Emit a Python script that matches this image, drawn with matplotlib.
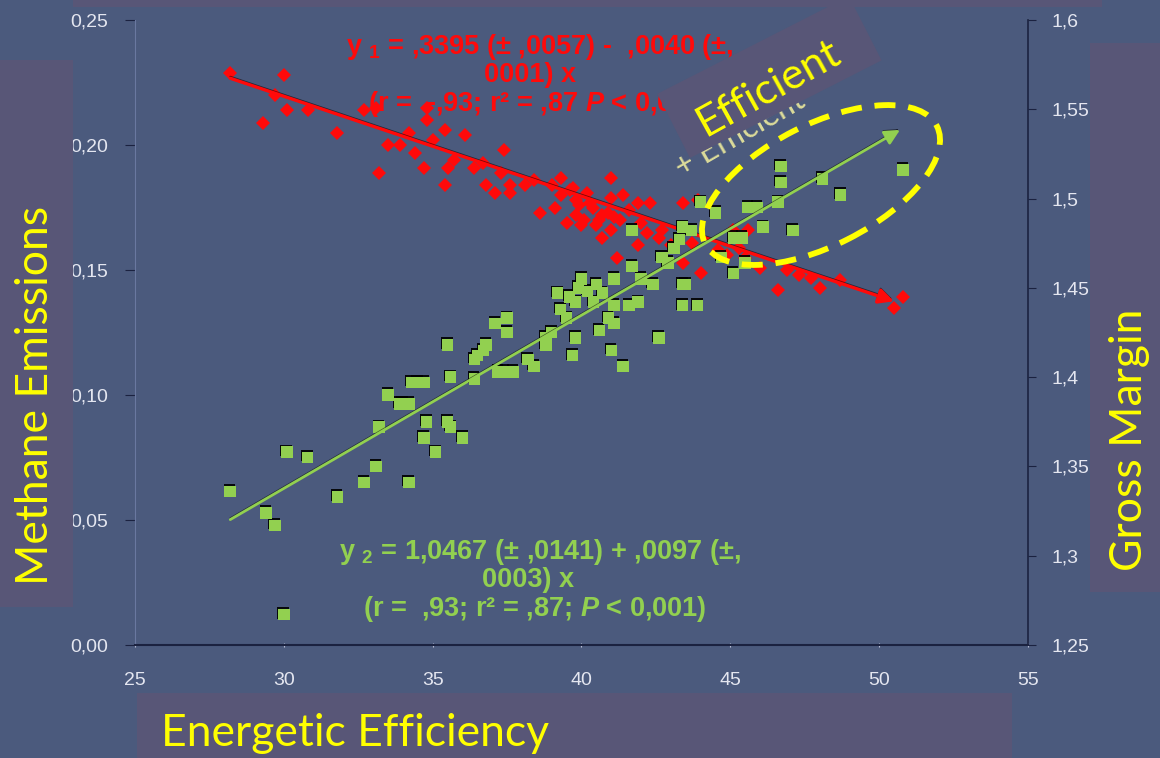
import matplotlib
matplotlib.use("Agg")
import matplotlib.pyplot as plt
from matplotlib.patches import Rectangle, Ellipse
import matplotlib.patheffects as pe

# Points (x = efficacité énergétique)
red_x = [28.2, 30.0, 29.7, 30.1, 29.3, 30.8, 31.8, 32.7, 33.1, 33.2,
         33.5, 33.9, 34.2, 34.4, 34.7, 34.8, 34.8, 35.0, 35.4, 36.1,
         35.4, 35.5, 35.7, 36.4, 36.7, 36.8, 37.1, 37.3, 37.4, 37.6,
         37.6, 38.1, 38.4, 38.6, 39.1, 39.3, 39.3, 39.5, 39.7, 39.8,
         40.0, 39.9, 40.3, 39.8, 41.0, 41.0, 40.7, 40.7, 41.4, 41.6,
         41.9, 41.9, 42.3, 42.6, 43.4, 43.9, 39.0, 39.6, 40.1, 40.6,
         41.0, 41.2, 43.4, 44.0, 45.1, 45.6, 45.5, 46.0, 46.6, 46.9,
         48.0, 48.7, 50.5, 50.8, 40.4, 40.9, 41.1, 40.2, 40.5, 41.3,
         42.0, 42.2, 43.0, 44.6, 44.9, 45.3, 47.3, 47.7, 42.7, 43.7]
red_y = [0.229, 0.228, 0.220, 0.214, 0.209, 0.214, 0.205, 0.214, 0.215, 0.189,
         0.200, 0.200, 0.205, 0.197, 0.191, 0.215, 0.210, 0.202, 0.206, 0.204,
         0.184, 0.191, 0.194, 0.191, 0.193, 0.184, 0.181, 0.189, 0.198, 0.184,
         0.181, 0.184, 0.186, 0.173, 0.175, 0.187, 0.180, 0.169, 0.183, 0.178,
         0.168, 0.176, 0.177, 0.172, 0.187, 0.179, 0.172, 0.163, 0.180, 0.174,
         0.177, 0.160, 0.177, 0.163, 0.177, 0.178, 0.184, 0.182, 0.170, 0.170,
         0.166, 0.155, 0.153, 0.149, 0.166, 0.166, 0.155, 0.151, 0.142, 0.150,
         0.143, 0.146, 0.135, 0.139, 0.175, 0.173, 0.171, 0.181, 0.168, 0.170,
         0.169, 0.165, 0.160, 0.158, 0.156, 0.159, 0.148, 0.147, 0.166, 0.161]

green_x = [28.2, 29.4, 29.7, 30.1, 30.8, 31.8, 32.7, 33.1, 34.2, 30.0,
           33.2, 33.5, 33.9, 34.2, 34.3, 34.7, 34.8, 34.7, 35.1, 35.5,
           35.6, 36.0, 35.5, 35.6, 36.4, 36.7, 36.8, 37.1, 37.5, 37.5,
           36.4, 37.4, 37.7, 38.2, 38.4, 38.8, 39.7, 39.8, 39.3, 34.0,
           34.5, 36.5, 37.2, 38.8, 39.0, 39.2, 39.5, 39.8, 40.0, 40.4,
           40.6, 40.9, 40.7, 41.1, 41.1, 41.1, 41.0, 41.4, 41.6, 41.7,
           42.0, 41.9, 42.4, 42.6, 42.7, 43.1, 43.4, 43.9, 43.4, 42.9,
           43.3, 44.7, 45.1, 41.7, 43.4, 43.7, 44.0, 44.5, 45.1, 45.4,
           45.5, 45.6, 45.9, 46.1, 46.6, 46.7, 46.7, 47.1, 48.1, 48.7,
           50.8, 43.5, 39.6, 39.9, 40.2, 40.5]
green_y = [1.336, 1.324, 1.317, 1.358, 1.355, 1.333, 1.341, 1.350, 1.341, 1.267,
           1.372, 1.390, 1.385, 1.385, 1.397, 1.397, 1.375, 1.366, 1.358, 1.375,
           1.372, 1.366, 1.418, 1.400, 1.410, 1.415, 1.418, 1.430, 1.433, 1.425,
           1.399, 1.403, 1.403, 1.410, 1.406, 1.418, 1.412, 1.422, 1.438, 1.385,
           1.397, 1.412, 1.403, 1.422, 1.425, 1.447, 1.433, 1.442, 1.455, 1.442,
           1.426, 1.433, 1.447, 1.455, 1.440, 1.430, 1.415, 1.406, 1.440, 1.462,
           1.455, 1.442, 1.452, 1.422, 1.467, 1.472, 1.440, 1.440, 1.452, 1.464,
           1.477, 1.467, 1.458, 1.482, 1.484, 1.482, 1.498, 1.492, 1.478, 1.478,
           1.464, 1.495, 1.495, 1.484, 1.498, 1.518, 1.509, 1.482, 1.511, 1.502,
           1.516, 1.452, 1.445, 1.450, 1.448, 1.452]

# Droites de régression données sur le graphique
b1, a1 = 0.3395, -0.0040
b2, a2 = 1.0467, 0.0097
fit1_x = [28.2, 50.5]
fit2_x = [28.2, 50.7]

x_ticks = [25, 30, 35, 40, 45, 50, 55]
left_ticks = [0.00, 0.05, 0.10, 0.15, 0.20, 0.25]
left_labels = ["0,00", "0,05", "0,10", "0,15", "0,20", "0,25"]
right_ticks = [1.25, 1.30, 1.35, 1.40, 1.45, 1.50, 1.55, 1.60]
right_labels = ["1,25", "1,3", "1,35", "1,4", "1,45", "1,5", "1,55", "1,6"]

BG = "#4b5a7d"
PURPLE = "#585677"
YEL = "#ffff00"
RED = "#ff0a0a"
GREEN = "#92d050"
TICKC = "#e4e6f0"
DARK = "#1b2240"

plt.rcParams["mathtext.fontset"] = "custom"
plt.rcParams["mathtext.rm"] = "Liberation Sans:bold"
plt.rcParams["mathtext.it"] = "Liberation Sans:italic:bold"

fig = plt.figure(figsize=(11.6, 7.58), dpi=100, facecolor=BG)
ax = fig.add_axes([135 / 1160, 1 - 645 / 758, 893 / 1160, 625 / 758], facecolor=BG)
ax.set_xlim(25, 55)
ax.set_ylim(0, 0.25)
ax2 = ax.twinx()
ax2.set_ylim(1.25, 1.6)

for s in ["top", "right"]:
    ax.spines[s].set_visible(False)
for s in ["top", "left", "bottom"]:
    ax2.spines[s].set_visible(False)
ax.spines["left"].set_color("#6a78a0")
ax.spines["bottom"].set_color(DARK)
ax.spines["bottom"].set_linewidth(1.5)
ax2.spines["right"].set_color(DARK)
ax2.spines["right"].set_linewidth(1.2)

tick_font = dict(family="Liberation Sans", size=14)
ax.set_xticks(x_ticks)
ax.set_xticklabels([str(v) for v in x_ticks], **tick_font)
ax.set_yticks(left_ticks)
ax.set_yticklabels(left_labels, **tick_font)
ax2.set_yticks(right_ticks)
ax2.set_yticklabels(right_labels, **tick_font)
ax.tick_params(axis="x", colors="#c0c6dc", labelcolor=TICKC, length=3, direction="inout", pad=18)
ax.tick_params(axis="y", colors=DARK, labelcolor=TICKC, length=7, pad=12)
ax2.tick_params(axis="y", colors=DARK, labelcolor=TICKC, length=6, pad=11)

# Nuages de points
ax.plot(red_x, red_y, "D", color=RED, ms=7.5, mew=0, zorder=3)
ax2.plot(green_x, green_y, "s", color=GREEN, ms=8.3, mew=0, zorder=3,
         path_effects=[pe.SimplePatchShadow(offset=(-0.5, 1.3), shadow_rgbFace="black", alpha=0.9),
                       pe.Normal()])

# Droites de régression avec flèche
arr1 = ax.annotate("", xy=(fit1_x[1], b1 + a1 * fit1_x[1]), xytext=(fit1_x[0], b1 + a1 * fit1_x[0]),
                   arrowprops=dict(arrowstyle="-|>,head_length=0.9,head_width=0.45", color=RED,
                                   lw=2.4, shrinkA=0, shrinkB=0), zorder=4)
arr1.arrow_patch.set_path_effects([pe.SimpleLineShadow(offset=(0, 1.2), shadow_color="black",
                                                       alpha=0.55, linewidth=1.2),
                                   pe.Normal()])
arr2 = ax2.annotate("", xy=(fit2_x[1], b2 + a2 * fit2_x[1]), xytext=(fit2_x[0], b2 + a2 * fit2_x[0]),
                    arrowprops=dict(arrowstyle="-|>,head_length=0.9,head_width=0.45", color=GREEN,
                                    lw=2.0, shrinkA=0, shrinkB=0), zorder=4)
arr2.arrow_patch.set_path_effects([pe.SimpleLineShadow(offset=(0, 1.0), shadow_color="black",
                                                       alpha=0.55, linewidth=1.2),
                                   pe.Normal()])

# Calque d'annotations en pixels
ov = fig.add_axes([0, 0, 1, 1], zorder=10)
ov.set_xlim(0, 1160)
ov.set_ylim(0, 758)
ov.axis("off")
ov.patch.set_alpha(0)


def Y(y):
    return 758 - y


eq = dict(ha="center", va="center", fontsize=19.5, fontweight="bold", family="Liberation Sans", zorder=1)
ov.text(540, Y(47), r"y $_1$ = ,3395 (± ,0057) -  ,0040 (±,", color=RED, **eq)
ov.text(530, Y(75), "0001) x", color=RED, **eq)
ov.text(540, Y(104), r"(r =  -,93; r² = ,87 $P$ < 0,001)", color=RED, **eq)
ov.text(540, Y(552), r"y $_2$ = 1,0467 (± ,0141) + ,0097 (±,", color=GREEN, **eq)
ov.text(528, Y(580), "0003) x", color=GREEN, **eq)
ov.text(535, Y(609), r"(r =  ,93; r² = ,87; $P$ < 0,001)", color=GREEN, **eq)

ov.text(678, Y(170), "+ Efficient", rotation=30, color="#dcdc9a", fontsize=23,
        family="Lato", ha="left", va="center", rotation_mode="anchor", zorder=1)

ov.add_patch(Rectangle((690, Y(158)), 215, 72, angle=27, facecolor=PURPLE, edgecolor="none", zorder=2))
ov.text(768, Y(88), "Efficient", rotation=29, color=YEL, fontsize=31, family="Lato",
        ha="center", va="center", rotation_mode="anchor", zorder=3)
ov.add_patch(Ellipse((821, Y(185)), 260, 121, angle=27, fill=False, edgecolor=YEL, lw=4.2,
                     linestyle=(0, (3.6, 2.2)), zorder=4))

# Bandeaux violets et titres des axes
for (x0, y0, w, h) in [(0, 607, 73, 547), (1090, 592, 70, 549), (137, 758, 875, 65), (73, 7, 1029, 7)]:
    ov.add_patch(Rectangle((x0, Y(y0)), w, h, facecolor=PURPLE, edgecolor="none", zorder=5))
big = dict(color=YEL, family="Lato", ha="center", va="center", zorder=6)
ov.text(36, Y(395), "Methane Emissions", rotation=90, fontsize=32, **big)
ov.text(1130, Y(440), "Gross Margin", rotation=90, fontsize=32, **big)
ov.text(355, Y(733), "Energetic Efficiency", fontsize=32, **big)

fig.savefig("out.png", dpi=100, facecolor=BG)
